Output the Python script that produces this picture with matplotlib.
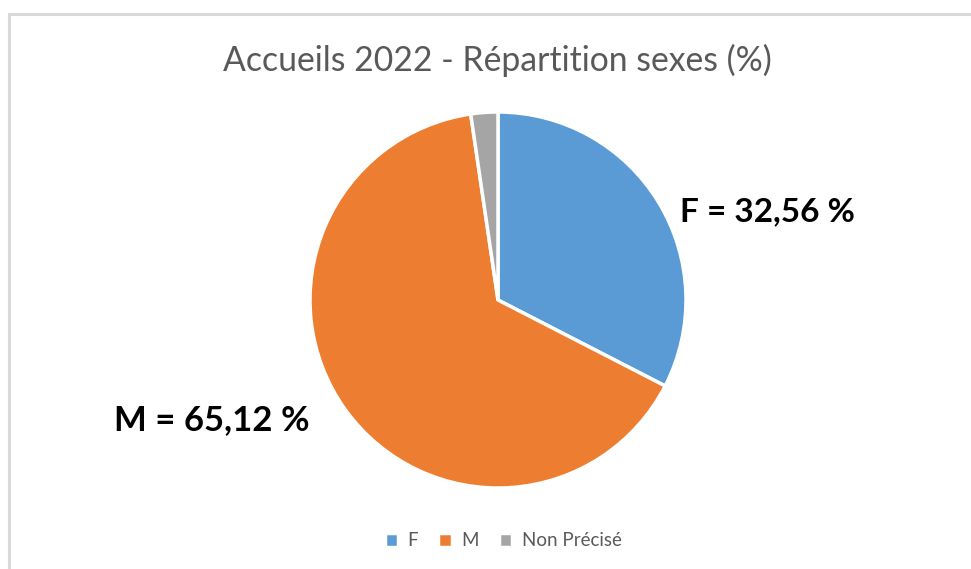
import matplotlib
matplotlib.use("Agg")
import matplotlib.pyplot as plt
from matplotlib.patches import Rectangle

categories = ["F", "M", "Non Précisé"]
values = [32.56, 65.12, 2.32]
colors = ["#5B9BD5", "#ED7D31", "#A5A5A5"]
title = "Accueils 2022 - Répartition sexes (%)"

W, H = 971, 569
fig = plt.figure(figsize=(W / 100, H / 100), dpi=100)
fig.patch.set_facecolor("white")
ax = fig.add_axes([0, 0, 1, 1])
ax.set_xlim(0, W)
ax.set_ylim(0, H)
ax.axis("off")

# chart border
ax.add_patch(Rectangle((9, -20), W + 50, (H - 14) + 20, fill=False,
                       edgecolor="#D9D9D9", linewidth=2.2))

wedges, _ = ax.pie(values, colors=colors, startangle=90, counterclock=False,
                   center=(498, H - 300), radius=188,
                   wedgeprops=dict(edgecolor="white", linewidth=2.5))
ax.set_xlim(0, W)
ax.set_ylim(0, H)
ax.set_aspect("auto")

fam = ["Lato", "DejaVu Sans"]
ax.text(497, H - 60, title, ha="center", va="center", fontsize=24.3,
        color="#595959", family=fam)

def fmt(v):
    return f"{v:.2f}".replace(".", ",") + " %"

ax.text(680, H - 212, f"{categories[0]} = {fmt(values[0])}", ha="left",
        va="center", fontsize=24, fontweight="bold", color="black", family=fam)
ax.text(310, H - 420, f"{categories[1]} = {fmt(values[1])}", ha="right",
        va="center", fontsize=25, fontweight="bold", color="black", family=fam)

leg = ax.legend(wedges, categories, loc="center", bbox_to_anchor=(503 / W, (H - 541) / H),
                ncol=3, frameon=False, handlelength=0.7, handleheight=0.7,
                handletextpad=0.5, columnspacing=1.1, labelcolor="#595959",
                prop={"family": fam, "size": 13.5})

fig.savefig("out.png", dpi=100)
